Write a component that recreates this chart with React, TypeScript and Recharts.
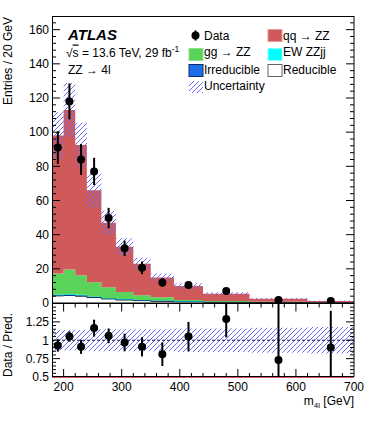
import React from 'react';
import { ComposedChart, Area, Scatter, ErrorBar, XAxis, YAxis, ReferenceLine } from 'recharts';

// ---------- data ----------
const binEdges = [180, 200, 220, 240, 265, 290, 320, 350, 390, 440, 520, 620, 700];
const reducible = [4.2, 4.4, 4.0, 3.2, 2.4, 1.8, 1.4, 1.05, 0.8, 0.55, 0.3, 0.15];
const irreducible = [0.4, 0.4, 0.4, 0.3, 0.3, 0.2, 0.2, 0.15, 0.1, 0.1, 0.1, 0.05];
const ewZZjj = [0.4, 0.4, 0.4, 0.3, 0.3, 0.3, 0.2, 0.2, 0.2, 0.15, 0.1, 0.05];
const ggZZ = [12.3, 14.4, 11.5, 8.4, 6.2, 4.1, 2.7, 1.9, 0.6, 0.4, 0.2, 0.1];
const qqZZ = [80.7, 93.4, 76.2, 53.8, 37.8, 26.6, 18.5, 11.7, 8.3, 4.2, 1.8, 0.85];
const relUnc = [0.14, 0.14, 0.14, 0.15, 0.15, 0.15, 0.15, 0.15, 0.16, 0.16, 0.17, 0.18];

const dataX = [190, 210, 230, 252.5, 277.5, 305, 335, 370, 415, 480, 570, 660];
const dataY = [91, 118, 84, 77, 49.7, 32, 20.6, 12, 10.5, 7.0, 1.8, 1.1];
const dataErr = [9.5, 10.5, 9, 8, 6, 4.5, 3.7, 2.5, 2.0, 1.3, 0.7, 0.5];

const ratioY = [0.93, 1.05, 0.91, 1.165, 1.06, 0.97, 0.91, 0.81, 1.05, 1.29, 0.73, 0.9];
const ratioErr = [0.085, 0.07, 0.095, 0.115, 0.1, 0.12, 0.13, 0.16, 0.2, 0.25, 0.8, 0.5];

const xMajor = [200, 300, 400, 500, 600, 700];
const ratioLabels = [0.5, 0.75, 1, 1.25];
const ratioLabelText = ['0.5', '0.75', '1', '1.25'];

// ---------- styling / layout ----------
const FONT = "'Liberation Sans', Arial, Helvetica, sans-serif";
const C_QQ = '#d05a5a';
const C_GG = '#5ad35a';
const C_EW = '#00ffff';
const C_IRR = '#1e6ee6';
const HATCH = '#6c6cf5';
const LEFT = 52;
const RIGHT = 354;
const M_TOP = 16;
const M_BOT = 303;
const R_CHART_TOP = 300;
const R_TOP = 3.5;
const R_BOT = 77;
const R_MIN = 0.5;
const R_MAX = 1.5;

const xTickVals: number[] = [];
for (let v = 180; v <= 700; v += 20) xTickVals.push(v);
const yMainTicks: number[] = [];
for (let v = 0; v <= 164; v += 4) yMainTicks.push(v);
const yRatioTicks: number[] = [];
for (let i = 10; i <= 30; i++) yRatioTicks.push(Math.round(i * 5) / 100);

const nBins = binEdges.length - 1;
const mainRows = binEdges.map((x, i) => {
  const j = Math.min(i, nBins - 1);
  const total = reducible[j] + irreducible[j] + ewZZjj[j] + ggZZ[j] + qqZZ[j];
  return {
    x,
    red: reducible[j],
    irr: irreducible[j],
    ew: ewZZjj[j],
    gg: ggZZ[j],
    qq: qqZZ[j],
    band: [total * (1 - relUnc[j]), total * (1 + relUnc[j])],
  };
});
const ratioRows = binEdges.map((x, i) => {
  const j = Math.min(i, nBins - 1);
  return { x, band: [1 - relUnc[j], 1 + relUnc[j]] };
});
const mainPts = dataX.map((x, i) => ({ x, y: dataY[i], err: dataErr[i] }));
// error bars are cut at the edges of the ratio panel
const ratioPts = dataX.map((x, i) => ({
  x,
  y: ratioY[i],
  err: [Math.min(ratioErr[i], ratioY[i] - R_MIN), Math.min(ratioErr[i], R_MAX - ratioY[i])],
}));

const isMajorX = (v: number) => xMajor.indexOf(v) >= 0;

const MainXTick = (p: any) => {
  const v = p.payload.value;
  if (v === 180 || v === 700) return <g />;
  const len = isMajorX(v) ? 8 : 4;
  return (
    <g stroke="#000" strokeWidth={1}>
      <line x1={p.x} x2={p.x} y1={M_BOT} y2={M_BOT - len} />
      <line x1={p.x} x2={p.x} y1={M_TOP} y2={M_TOP + len} />
    </g>
  );
};

const MainYTick = (p: any) => {
  const v = p.payload.value;
  const major = v % 20 === 0;
  const len = major ? 8 : 4;
  return (
    <g>
      {v !== 0 && (
        <g stroke="#000" strokeWidth={1}>
          <line x1={LEFT} x2={LEFT + len} y1={p.y} y2={p.y} />
          <line x1={RIGHT} x2={RIGHT - len} y1={p.y} y2={p.y} />
        </g>
      )}
      {major && (
        <text x={49} y={p.y + 4.3} textAnchor="end" fontFamily={FONT} fontSize={12} fill="#000">
          {v}
        </text>
      )}
    </g>
  );
};

const RatioXTick = (p: any) => {
  const v = p.payload.value;
  const len = isMajorX(v) ? 8 : 4;
  return (
    <g>
      {v !== 180 && v !== 700 && (
        <g stroke="#000" strokeWidth={1}>
          <line x1={p.x} x2={p.x} y1={R_BOT} y2={R_BOT - len} />
          <line x1={p.x} x2={p.x} y1={R_TOP} y2={R_TOP + len} />
        </g>
      )}
      {isMajorX(v) && (
        <text x={p.x} y={91} textAnchor="middle" fontFamily={FONT} fontSize={12} fill="#000">
          {v}
        </text>
      )}
    </g>
  );
};

const RatioYTick = (p: any) => {
  const v = p.payload.value;
  const k = Math.round(v * 100);
  const major = k % 25 === 0;
  const len = major ? 8 : 4;
  const li = ratioLabels.indexOf(v);
  return (
    <g>
      {k !== 50 && k !== 150 && (
        <g stroke="#000" strokeWidth={1}>
          <line x1={LEFT} x2={LEFT + len} y1={p.y} y2={p.y} />
          <line x1={RIGHT} x2={RIGHT - len} y1={p.y} y2={p.y} />
        </g>
      )}
      {li >= 0 && (
        <text x={49} y={p.y + 4.3} textAnchor="end" fontFamily={FONT} fontSize={12} fill="#000">
          {ratioLabelText[li]}
        </text>
      )}
    </g>
  );
};

const Dot = (p: any) => <circle cx={p.cx} cy={p.cy} r={4} fill="#000" />;

const hatch = (id: string) => (
  <pattern id={id} patternUnits="userSpaceOnUse" width={5} height={5}>
    <path d="M-1,1 l2,-2 M0,5 l5,-5 M4,6 l2,-2" stroke={HATCH} strokeWidth={1} />
  </pattern>
);

export default function App() {
  return (
    <div style={{ position: 'fixed', left: 0, top: 0, width: 374, height: 421, background: '#fff' }}>
      {/* main panel */}
      <div style={{ position: 'absolute', left: 0, top: 0 }}>
        <ComposedChart width={374} height={310} data={mainRows} margin={{ top: M_TOP, right: 374 - RIGHT, bottom: 7, left: 0 }}>
          <defs>{hatch('hatchMain')}</defs>
          <XAxis dataKey="x" type="number" domain={[180, 700]} allowDataOverflow ticks={xTickVals} interval={0}
            height={0} axisLine={false} tickLine={false} tick={(p: any) => <MainXTick {...p} />} />
          <YAxis type="number" domain={[0, 168]} allowDataOverflow ticks={yMainTicks} interval={0} width={LEFT}
            axisLine={false} tickLine={false} tick={(p: any) => <MainYTick {...p} />} />
          <Area type="stepAfter" dataKey="red" stackId="s" fill="#ffffff" fillOpacity={1} stroke="#000" strokeWidth={1} isAnimationActive={false} />
          <Area type="stepAfter" dataKey="irr" stackId="s" fill={C_IRR} fillOpacity={1} stroke="#0b2a66" strokeWidth={0.8} isAnimationActive={false} />
          <Area type="stepAfter" dataKey="ew" stackId="s" fill={C_EW} fillOpacity={1} stroke="none" isAnimationActive={false} />
          <Area type="stepAfter" dataKey="gg" stackId="s" fill={C_GG} fillOpacity={1} stroke="none" isAnimationActive={false} />
          <Area type="stepAfter" dataKey="qq" stackId="s" fill={C_QQ} fillOpacity={1} stroke="none" isAnimationActive={false} />
          <Area type="stepAfter" dataKey="band" fill="url(#hatchMain)" fillOpacity={1} stroke="none" isAnimationActive={false} />
          <Scatter data={mainPts} dataKey="y" shape={Dot} isAnimationActive={false}>
            <ErrorBar dataKey="err" direction="y" width={0} stroke="#000" strokeWidth={2} isAnimationActive={false} />
          </Scatter>
        </ComposedChart>
      </div>
      {/* ratio panel */}
      <div style={{ position: 'absolute', left: 0, top: R_CHART_TOP }}>
        <ComposedChart width={374} height={121} data={ratioRows} margin={{ top: R_TOP, right: 374 - RIGHT, bottom: 0, left: 0 }}>
          <defs>{hatch('hatchRatio')}</defs>
          <XAxis dataKey="x" type="number" domain={[180, 700]} allowDataOverflow ticks={xTickVals} interval={0}
            height={121 - R_BOT} axisLine={false} tickLine={false} tick={(p: any) => <RatioXTick {...p} />} />
          <YAxis type="number" domain={[R_MIN, R_MAX]} allowDataOverflow ticks={yRatioTicks} interval={0} width={LEFT}
            axisLine={false} tickLine={false} tick={(p: any) => <RatioYTick {...p} />} />
          <Area type="stepAfter" dataKey="band" fill="url(#hatchRatio)" fillOpacity={1} stroke="none" isAnimationActive={false} />
          <ReferenceLine y={1} stroke="#1a1a5a" strokeDasharray="3 2" strokeWidth={1} />
          <Scatter data={ratioPts} dataKey="y" shape={Dot} isAnimationActive={false}>
            <ErrorBar dataKey="err" direction="y" width={0} stroke="#000" strokeWidth={2} isAnimationActive={false} />
          </Scatter>
        </ComposedChart>
      </div>
      {/* annotations, frames, legend */}
      <svg width={374} height={421} style={{ position: 'absolute', left: 0, top: 0, pointerEvents: 'none' }}
        fontFamily={FONT} fontSize={12}>
        <defs>{hatch('hatchLeg')}</defs>
        <rect x={LEFT + 0.5} y={M_TOP + 0.5} width={RIGHT - LEFT - 0.5} height={M_BOT - M_TOP - 0.5} fill="none" stroke="#000" />
        <rect x={LEFT + 0.5} y={M_BOT + 0.5} width={RIGHT - LEFT - 0.5} height={R_CHART_TOP + R_BOT - M_BOT - 1} fill="none" stroke="#000" />
        <line x1={LEFT} x2={RIGHT} y1={R_CHART_TOP + R_BOT + 0.5} y2={R_CHART_TOP + R_BOT + 0.5} stroke={C_QQ} />

        <text transform="translate(12,17) rotate(-90)" textAnchor="end">Entries / 20 GeV</text>
        <text transform="translate(12,313) rotate(-90)" textAnchor="end">Data / Pred.</text>
        <text x={354} y={405} textAnchor="end">
          m<tspan fontSize={8} dy={3}>4l</tspan><tspan dy={-3}> [GeV]</tspan>
        </text>

        <text x={68} y={39.5} fontWeight="bold" fontStyle="italic" fontSize={15}>ATLAS</text>
        <text x={66} y={56.5}>
          √<tspan textDecoration="overline">s</tspan> = 13.6 TeV, 29 fb<tspan fontSize={8.5} dy={-5}>-1</tspan>
        </text>
        <text x={68} y={73.5}>ZZ → 4l</text>

        {/* legend column 1 */}
        <line x1={195.5} x2={195.5} y1={30.5} y2={40.5} stroke="#000" strokeWidth={2} />
        <circle cx={195.5} cy={35.5} r={4} fill="#000" />
        <text x={204} y={39.5}>Data</text>
        <rect x={189} y={48.5} width={14} height={12} fill={C_GG} stroke="#8ee08e" />
        <text x={204} y={56}>gg → ZZ</text>
        <rect x={189} y={64.5} width={14} height={12} fill={C_IRR} stroke="#0b2a66" />
        <text x={204} y={73.5}>Irreducible</text>
        <rect x={189} y={81} width={14} height={12} fill="url(#hatchLeg)" />
        <text x={204} y={90}>Uncertainty</text>

        {/* legend column 2 */}
        <rect x={268} y={29.5} width={14} height={12} fill={C_QQ} stroke="#e69a9a" />
        <text x={283} y={39.5}>qq → ZZ</text>
        <rect x={268} y={48.5} width={14} height={12} fill={C_EW} stroke="#8ff" />
        <text x={283} y={56}>EW ZZjj</text>
        <rect x={268} y={64.5} width={14} height={12} fill="#fff" stroke="#666" />
        <text x={283} y={73.5}>Reducible</text>
      </svg>
    </div>
  );
}
